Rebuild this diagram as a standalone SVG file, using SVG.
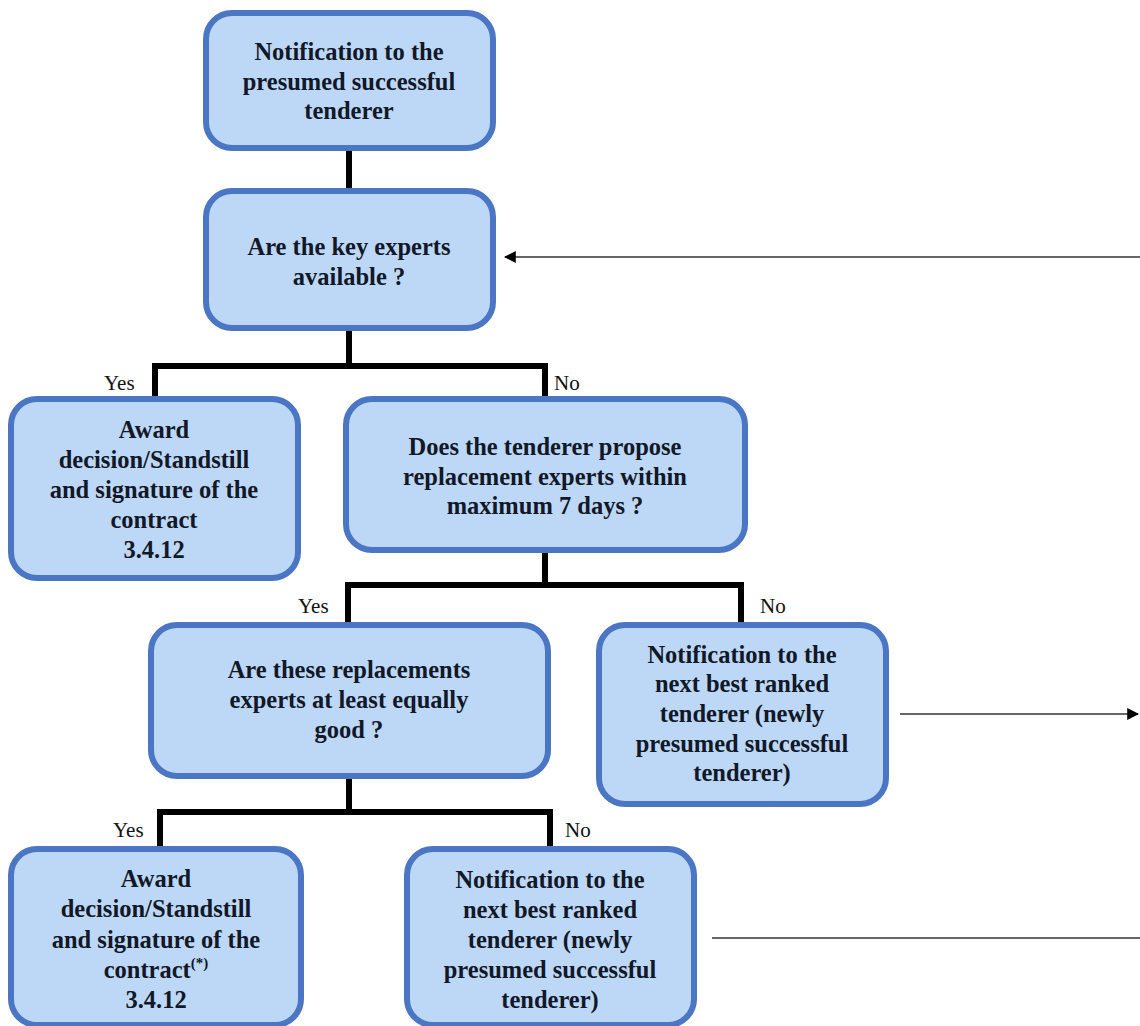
<svg xmlns="http://www.w3.org/2000/svg" width="1140" height="1026" viewBox="0 0 1140 1026">
<style>
.box{fill:#bdd7f7;stroke:#4a76c4;stroke-width:6}
.t{font-family:"Liberation Serif","Times New Roman",serif;font-weight:bold;font-size:24.5px;fill:#111827;text-anchor:middle}
.lbl{font-family:"Liberation Serif","Times New Roman",serif;font-size:21px;fill:#111}
.c{fill:none;stroke:#000;stroke-width:6}
.a{fill:none;stroke:#333;stroke-width:1.6}
</style>
<defs>
<marker id="ah" viewBox="0 0 10 10" refX="9" refY="5" markerWidth="12" markerHeight="12" markerUnits="userSpaceOnUse" orient="auto">
<path d="M0,0 L10,5 L0,10 z" fill="#000"/>
</marker>
</defs>
<g id="connectors">
<path class="c" d="M349,148 V190"/>
<path class="c" d="M349,328 V366 M155,366 H545 M155,363 V398 M545,363 V398"/>
<path class="c" d="M545,550 V585 M348,585 H741 M348,582 V624 M741,582 V624"/>
<path class="c" d="M349,776 V812 M160,812 H550 M160,809 V848 M550,809 V848"/>
<path class="a" d="M1140,257 H505" marker-end="url(#ah)"/>
<path class="a" d="M900,714 H1138" marker-end="url(#ah)"/>
<path class="a" d="M712,938 H1140"/>
<text class="lbl" x="104" y="390">Yes</text>
<text class="lbl" x="554" y="390">No</text>
<text class="lbl" x="298" y="613">Yes</text>
<text class="lbl" x="760" y="613">No</text>
<text class="lbl" x="113" y="837">Yes</text>
<text class="lbl" x="565" y="837">No</text>
</g>
<g id="n1">
<rect class="box" x="206" y="13" width="287" height="135" rx="26"/>
<text class="t" x="349" y="60">Notification to the</text>
<text class="t" x="349" y="90">presumed successful</text>
<text class="t" x="349" y="119">tenderer</text>
</g>
<g id="n2">
<rect class="box" x="206" y="191" width="287" height="137" rx="26"/>
<text class="t" x="349" y="255">Are the key experts</text>
<text class="t" x="349" y="285">available ?</text>
</g>
<g id="n3">
<rect class="box" x="11" y="399" width="287" height="179" rx="26"/>
<text class="t" x="154" y="438">Award</text>
<text class="t" x="154" y="468">decision/Standstill</text>
<text class="t" x="154" y="498">and signature of the</text>
<text class="t" x="154" y="528">contract</text>
<text class="t" x="154" y="558">3.4.12</text>
</g>
<g id="n4">
<rect class="box" x="346" y="399" width="399" height="151" rx="26"/>
<text class="t" x="545" y="455">Does the tenderer propose</text>
<text class="t" x="545" y="485">replacement experts within</text>
<text class="t" x="545" y="514">maximum 7 days ?</text>
</g>
<g id="n5">
<rect class="box" x="151" y="625" width="397" height="151" rx="26"/>
<text class="t" x="349" y="678">Are these replacements</text>
<text class="t" x="349" y="708">experts at least equally</text>
<text class="t" x="349" y="738">good ?</text>
</g>
<g id="n6">
<rect class="box" x="599" y="625" width="287" height="179" rx="26"/>
<text class="t" x="742" y="663">Notification to the</text>
<text class="t" x="742" y="692">next best ranked</text>
<text class="t" x="742" y="722">tenderer (newly</text>
<text class="t" x="742" y="752">presumed successful</text>
<text class="t" x="742" y="781">tenderer)</text>
</g>
<g id="n7">
<rect class="box" x="11" y="849" width="290" height="176" rx="26"/>
<text class="t" x="156" y="887">Award</text>
<text class="t" x="156" y="917">decision/Standstill</text>
<text class="t" x="156" y="948">and signature of the</text>
<text class="t" x="156" y="978">contract<tspan font-size="15" dy="-10">(*)</tspan></text>
<text class="t" x="156" y="1008">3.4.12</text>
</g>
<g id="n8">
<rect class="box" x="407" y="849" width="287" height="176" rx="26"/>
<text class="t" x="550" y="888">Notification to the</text>
<text class="t" x="550" y="918">next best ranked</text>
<text class="t" x="550" y="948">tenderer (newly</text>
<text class="t" x="550" y="978">presumed successful</text>
<text class="t" x="550" y="1008">tenderer)</text>
</g>
</svg>
